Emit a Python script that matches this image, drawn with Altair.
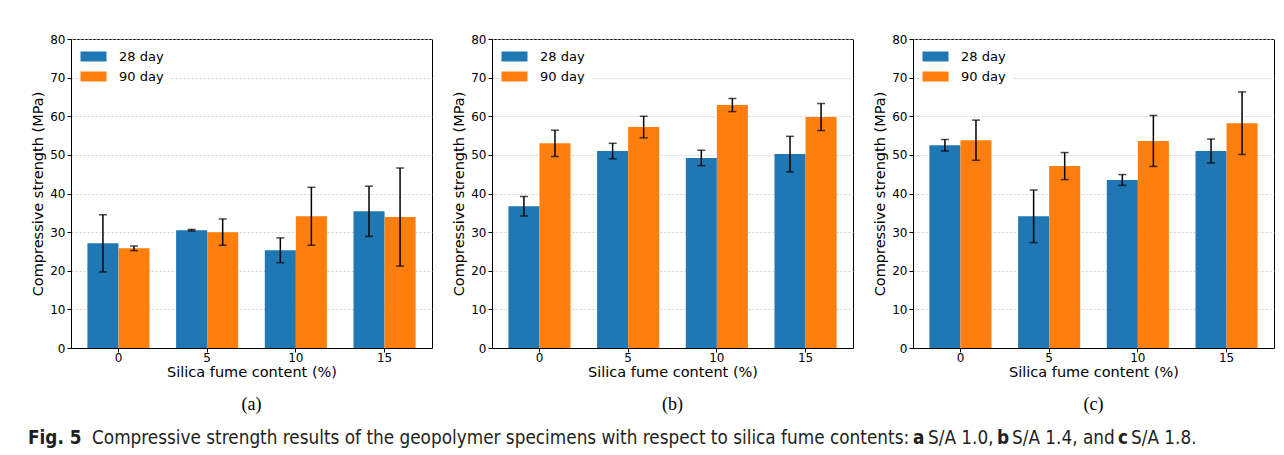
import altair as alt
import pandas as pd

contents = ["0", "5", "10", "15"]
ages = ["28 day", "90 day"]
panels = ["a", "b", "c"]

# mean values per panel: [28 day values], [90 day values]
a_28 = [27.1, 30.5, 25.3, 35.4]
a_90 = [25.8, 30.0, 34.1, 33.9]
a_28_err = [7.4, 0.2, 3.2, 6.5]
a_90_err = [0.6, 3.4, 7.5, 12.7]

b_28 = [36.7, 51.0, 49.2, 50.2]
b_90 = [53.0, 57.2, 62.9, 59.8]
b_28_err = [2.5, 2.0, 2.0, 4.6]
b_90_err = [3.4, 2.8, 1.7, 3.5]

c_28 = [52.5, 34.1, 43.5, 51.0]
c_90 = [53.8, 47.1, 53.6, 58.2]
c_28_err = [1.5, 6.8, 1.4, 3.1]
c_90_err = [5.2, 3.5, 6.6, 8.1]

y_ticks = [0, 10, 20, 30, 40, 50, 60, 70, 80]
subcaptions = ["(a)", "(b)", "(c)"]
caption_text = [
    "Fig. 5",
    "Compressive strength results of the geopolymer specimens with respect to silica fume contents:",
    "a", "S/A 1.0,", "b", "S/A 1.4, and", "c", "S/A 1.8.",
]
caption_bold = [True, False, True, False, True, False, True, False]
caption_x = [27, 91, 912, 927, 996, 1011, 1117, 1130]   # page x of each caption piece

series = {
    "a": (a_28, a_90, a_28_err, a_90_err),
    "b": (b_28, b_90, b_28_err, b_90_err),
    "c": (c_28, c_90, c_28_err, c_90_err),
}

COLORS = ["#1f77b4", "#ff7f0e"]
FONT = "DejaVu Sans"
W, H = 361, 309
PLOT_LEFT = 70


def panel(key, sub):
    v28, v90, e28, e90 = series[key]
    rows = []
    for i, c in enumerate(contents):
        rows.append({"content": c, "age": ages[0], "value": v28[i], "err": e28[i]})
        rows.append({"content": c, "age": ages[1], "value": v90[i], "err": e90[i]})
    df = pd.DataFrame(rows)
    base = alt.Chart(df).transform_calculate(
        lo="datum.value - datum.err", hi="datum.value + datum.err"
    )
    xaxis = alt.Axis(title="Silica fume content (%)", labelAngle=0, tickSize=4,
                     labelPadding=0, titlePadding=2, grid=False)
    x = alt.X("content:N", sort=contents,
              scale=alt.Scale(paddingInner=0.3, paddingOuter=0.185), axis=xaxis)
    xo = alt.XOffset("age:N", sort=ages)
    yscale = alt.Scale(domain=[0, 80], nice=False)
    yaxis = alt.Axis(title="Compressive strength (MPa)", values=y_ticks,
                     tickSize=4, labelPadding=2, titlePadding=4, grid=True)

    def Y(field):
        return alt.Y(field, scale=yscale, axis=yaxis)

    bars = base.mark_bar().encode(
        x=x, xOffset=xo, y=Y("value:Q"),
        color=alt.Color("age:N", sort=ages, scale=alt.Scale(domain=ages, range=COLORS),
                        legend=alt.Legend(title=None, orient="none", legendX=10, legendY=5)),
    )
    rules = base.mark_rule(color="black", strokeWidth=1.5).encode(
        x=x, xOffset=xo, y=Y("lo:Q"), y2="hi:Q",
    )
    caps_hi = base.mark_tick(color="black", thickness=1.5, size=8, orient="horizontal").encode(
        x=x, xOffset=xo, y=Y("hi:Q"),
    )
    caps_lo = base.mark_tick(color="black", thickness=1.5, size=8, orient="horizontal").encode(
        x=x, xOffset=xo, y=Y("lo:Q"),
    )
    return alt.layer(bars, rules, caps_hi, caps_lo).properties(
        width=W, height=H,
        title=alt.TitleParams(sub, orient="bottom", font="Liberation Serif", fontSize=18,
                              fontWeight="normal", color="black", offset=17),
        view=alt.ViewBackground(stroke="black", strokeWidth=1),
    )


cap_df = pd.DataFrame({"text": caption_text, "bold": caption_bold, "px": caption_x})
cap_base = alt.Chart(cap_df).encode(
    x=alt.X("px:Q", scale=alt.Scale(domain=[0, 1200], range=[-PLOT_LEFT, 1200 - PLOT_LEFT]),
            axis=None),
    y=alt.value(10),
    text="text:N",
)
CAP_FONT = "DejaVu Sans Condensed, DejaVu Sans, sans-serif"
cap_bold = cap_base.transform_filter("datum.bold").mark_text(
    align="left", baseline="middle", fontSize=18.8, font=CAP_FONT, fontWeight="bold", color="#231f20"
)
cap_norm = cap_base.transform_filter("!datum.bold").mark_text(
    align="left", baseline="middle", fontSize=18.8, font=CAP_FONT, fontWeight="normal", color="#231f20"
)
caption = alt.layer(cap_bold, cap_norm).properties(
    width=1100, height=20, view=alt.ViewBackground(stroke="transparent")
)

top = alt.hconcat(*[panel(k, s) for k, s in zip(panels, subcaptions)], spacing=18).resolve_scale(
    color="independent"
)

chart = alt.vconcat(top, caption, spacing=13).properties(
    padding={"left": 27, "top": 32, "right": 0, "bottom": 0}
).configure(
    font=FONT,
).configure_axis(
    labelFont=FONT, titleFont=FONT, labelFontSize=12, titleFontSize=14.5,
    labelColor="black", titleColor="black", titleFontWeight="normal",
    domainColor="black", tickColor="black", domainWidth=1, tickWidth=1,
    gridColor="#c8c8c8", gridDash=[2, 2], gridWidth=0.8,
).configure_legend(
    labelFont=FONT, labelFontSize=13, labelColor="black",
    symbolType="M-2.6,-1H2.6V1H-2.6Z", symbolSize=100, symbolStrokeWidth=0,
    symbolOpacity=1, labelOffset=19, rowPadding=6, padding=6,
    fillColor="white",
)

chart.save("out.html", embed_options={"renderer": "svg", "actions": False})
